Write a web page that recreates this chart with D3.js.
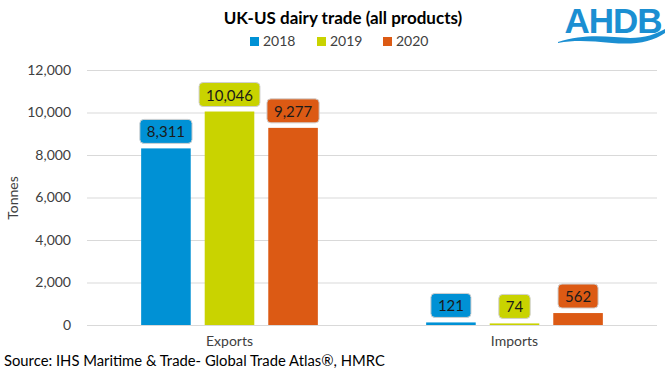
<!DOCTYPE html>
<html>
<head>
<meta charset="utf-8">
<script src="https://cdn.jsdelivr.net/npm/d3@7"></script>
<style>
  body { margin: 0; background: #fff; }
  svg { font-family: Lato, "Open Sans", sans-serif; }
</style>
</head>
<body>
<svg></svg>
<script>
const width = 668;
const height = 380;

const categories = ["Exports", "Imports"];
const years = ["2018", "2019", "2020"];
const exportsValues = [8311, 10046, 9277];
const importsValues = [121, 74, 562];
const yTicks = [0, 2000, 4000, 6000, 8000, 10000, 12000];
const colours = ["#0091d5", "#c9d300", "#dc5a14"];

const svg = d3.select("svg").attr("width", width).attr("height", height);

const rows = categories.map((c, i) => ({
  category: c,
  values: (i === 0 ? exportsValues : importsValues).map((v, j) => ({ year: years[j], value: v }))
}));

const plotLeft = 87, plotRight = 657, plotTop = 70, plotBottom = 325;

const x0 = d3.scaleBand().domain(categories).range([plotLeft, plotRight]);
const x1 = d3.scaleBand().domain(years)
  .range([x0.bandwidth() * 0.19, x0.bandwidth() * 0.81])
  .paddingInner(0.22);
const y = d3.scaleLinear().domain([0, 12000]).range([plotBottom, plotTop]);
const colour = d3.scaleOrdinal().domain(years).range(colours);
const fmt = d3.format(",");

// gridlines + y labels
const yAxis = d3.axisLeft(y).tickValues(yTicks).tickSize(-(plotRight - plotLeft)).tickFormat(fmt).tickPadding(16);
const gy = svg.append("g").attr("transform", `translate(${plotLeft},0)`).call(yAxis);
gy.select(".domain").remove();
gy.selectAll(".tick line").attr("stroke", "#d9d9d9");
gy.selectAll(".tick text").attr("font-size", 14).attr("fill", "#404040").attr("font-family", "Lato, sans-serif");

// category labels
const xAxis = d3.axisBottom(x0).tickSize(0).tickPadding(11);
const gx = svg.append("g").attr("transform", `translate(0,${plotBottom})`).call(xAxis);
gx.select(".domain").remove();
gx.selectAll(".tick text").attr("font-size", 14).attr("fill", "#404040").attr("font-family", "Lato, sans-serif");

// bars
const groups = svg.selectAll(".grp").data(rows).enter().append("g")
  .attr("transform", d => `translate(${x0(d.category)},0)`);

groups.selectAll("rect.bar").data(d => d.values).enter().append("rect")
  .attr("class", "bar")
  .attr("x", d => x1(d.year))
  .attr("y", d => y(d.value))
  .attr("width", x1.bandwidth())
  .attr("height", d => y(0) - y(d.value))
  .attr("fill", d => colour(d.year));

// value labels in rounded boxes
const labels = groups.selectAll("g.lab").data(d => d.values).enter().append("g").attr("class", "lab");
labels.append("rect");
labels.append("text")
  .attr("x", d => x1(d.year) + x1.bandwidth() / 2)
  .attr("y", d => y(d.value) - 5 - 12)
  .attr("text-anchor", "middle")
  .attr("dominant-baseline", "central")
  .attr("font-size", 15)
  .attr("fill", "#1a1a1a")
  .text(d => fmt(d.value));
labels.each(function (d) {
  const g = d3.select(this);
  const w = g.select("text").node().getComputedTextLength() + 14;
  const cx = x1(d.year) + x1.bandwidth() / 2;
  g.select("rect")
    .attr("x", cx - w / 2)
    .attr("y", y(d.value) - 5 - 24)
    .attr("width", w)
    .attr("height", 24)
    .attr("rx", 4)
    .attr("fill", colour(d.year))
    .attr("stroke", "#d0d0d0");
});

// title
svg.append("text").attr("x", 343).attr("y", 24).attr("text-anchor", "middle")
  .attr("font-size", 17).attr("font-weight", "bold").attr("fill", "#000")
  .text("UK-US dairy trade (all products)");

// legend
const legendX = [250, 317, 383];
const leg = svg.selectAll(".leg").data(years).enter().append("g")
  .attr("transform", (d, i) => `translate(${legendX[i]},37)`);
leg.append("rect").attr("width", 9).attr("height", 9).attr("fill", d => colour(d));
leg.append("text").attr("x", 13).attr("y", 9).attr("font-size", 14).attr("fill", "#404040").text(d => d);

// y-axis title
svg.append("text").attr("transform", "translate(18,198) rotate(-90)")
  .attr("text-anchor", "middle").attr("font-size", 14).attr("fill", "#404040").text("Tonnes");

// source
svg.append("text").attr("x", 4).attr("y", 366).attr("font-size", 14.8).attr("fill", "#000")
  .text("Source: IHS Maritime & Trade- Global Trade Atlas®, HMRC");

// logo
const logo = svg.append("g");
logo.append("text").attr("x", 613).attr("y", 33).attr("text-anchor", "middle")
  .attr("font-family", "Liberation Sans, Arial, sans-serif").attr("font-weight", "bold")
  .attr("font-size", 35).attr("fill", "#1b8fd2").attr("letter-spacing", -1).text("AHDB");
logo.append("path")
  .attr("d", "M558,42 C585,33 610,37 630,38 C645,38 656,34 665,29 L665,33 C652,42 635,45 612,43 C590,41 575,40 558,43 Z")
  .attr("fill", "#1b8fd2");
</script>
</body>
</html>
